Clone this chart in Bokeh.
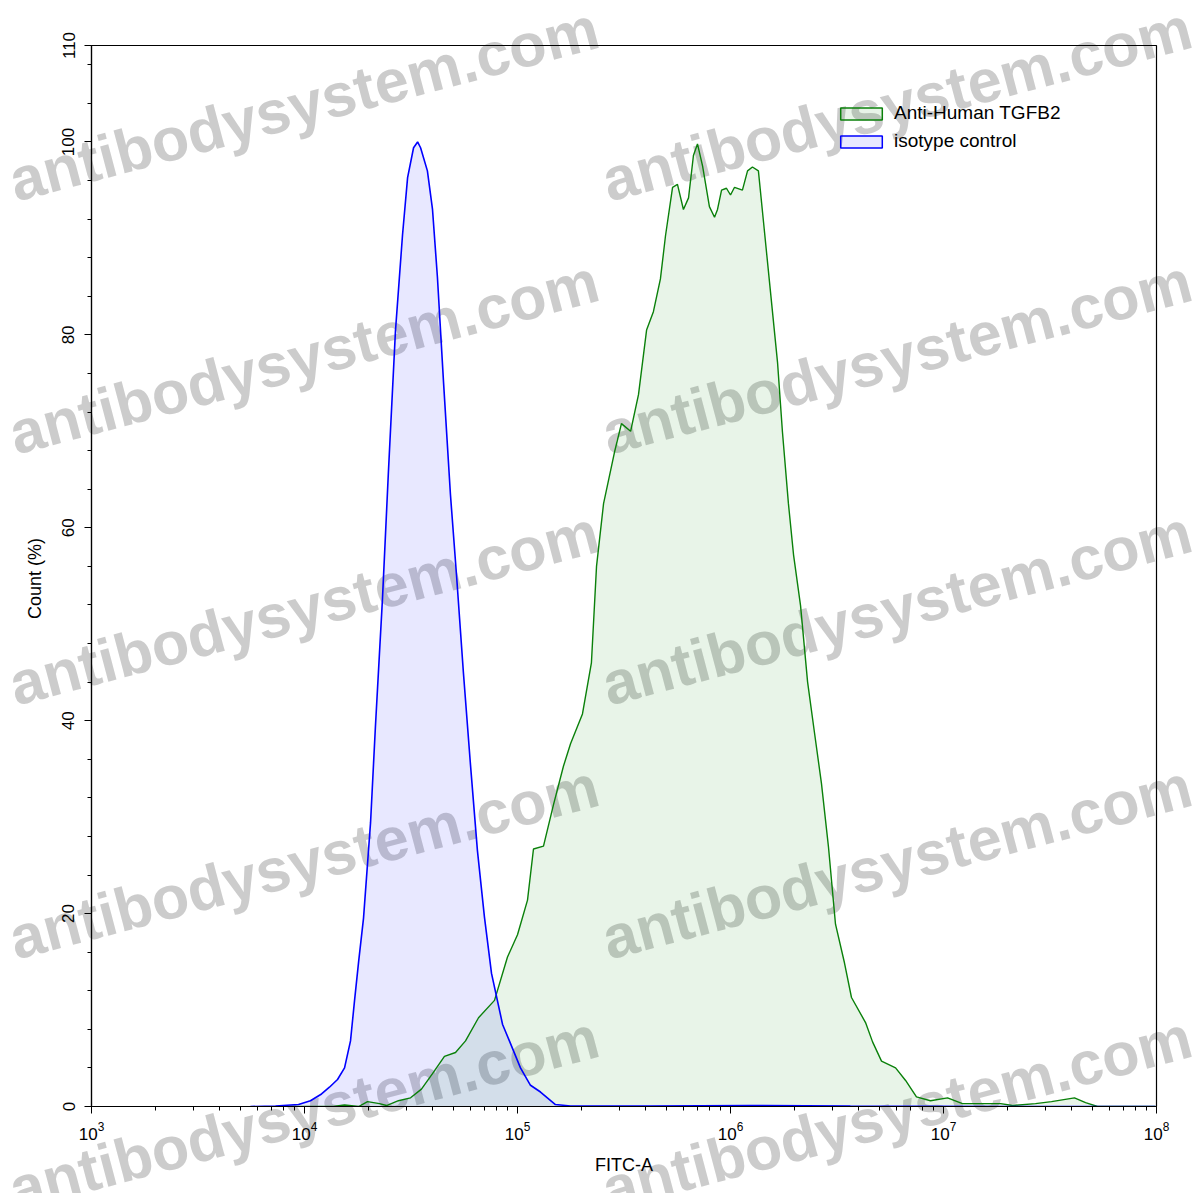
import numpy as np
from bokeh.plotting import figure
from bokeh.models import Range1d, FixedTicker, Legend, LegendItem, ColumnDataSource, GridBox, Div
from bokeh.embed import file_html
from bokeh.resources import INLINE

# ---- data (x given as log10 of FITC-A intensity, y as Count %) ----
iso_log10 = [3.746, 3.864, 3.972, 4.028, 4.080, 4.117, 4.155, 4.188, 4.216, 4.235,
             4.254, 4.277, 4.310, 4.333, 4.366, 4.394, 4.427, 4.460, 4.484, 4.512,
             4.531, 4.545, 4.577, 4.601, 4.624, 4.653, 4.685, 4.714, 4.746, 4.779,
             4.812, 4.845, 4.878, 4.930, 4.962, 5.014, 5.061, 5.108, 5.178, 5.249,
             5.624, 6.094, 6.563, 7.268, 7.995]
iso_pct = [0, 0.05, 0.2, 0.6, 1.3, 2.0, 2.8, 4.0, 6.8, 11.0,
           15.0, 19.5, 29.4, 39.4, 52.6, 65.8, 80.4, 90.3, 96.3, 99.4,
           100.0, 99.4, 97.0, 93.0, 86.0, 75.0, 63.5, 55.0, 45.0, 35.5,
           26.5, 19.6, 13.8, 8.5, 6.8, 4.0, 2.2, 1.5, 0.2, 0.05,
           0.05, 0.1, 0.05, 0, 0]

tgfb2_log10 = [3.900, 4.136, 4.188, 4.254, 4.296, 4.352, 4.385, 4.441, 4.498, 4.549,
               4.601, 4.657, 4.709, 4.756, 4.817, 4.892, 4.953, 5.000, 5.047, 5.075,
               5.122, 5.169, 5.216, 5.249, 5.305, 5.347, 5.371, 5.404, 5.455, 5.488,
               5.531, 5.568, 5.606, 5.638, 5.671, 5.695, 5.728, 5.751, 5.779, 5.803,
               5.826, 5.845, 5.869, 5.901, 5.925, 5.939, 5.958, 5.981, 6.000, 6.019,
               6.056, 6.080, 6.103, 6.131, 6.155, 6.188, 6.221, 6.244, 6.272, 6.296,
               6.329, 6.362, 6.394, 6.427, 6.460, 6.493, 6.535, 6.568, 6.634, 6.667,
               6.709, 6.775, 6.822, 6.873, 6.939, 7.019, 7.089, 7.268, 7.324, 7.432,
               7.507, 7.615, 7.667, 7.723, 7.995]
tgfb2_pct = [0, 0, 0.15, 0, 0.5, 0.3, 0.1, 0.6, 0.9, 1.8,
             3.4, 5.2, 5.6, 6.8, 9.2, 11.0, 15.5, 17.8, 21.4, 26.7,
             27.0, 31.3, 35.3, 37.6, 40.7, 46.0, 56.0, 62.5, 67.8, 70.8,
             70.0, 73.8, 80.5, 82.4, 85.8, 90.3, 95.3, 95.6, 93.0, 94.2,
             98.6, 99.8, 97.5, 93.3, 92.2, 93.0, 95.0, 95.2, 94.5, 95.3,
             95.0, 97.0, 97.4, 97.0, 91.7, 84.4, 77.1, 69.9, 62.5, 57.2,
             51.9, 44.0, 38.8, 33.5, 26.9, 18.9, 14.9, 11.3, 8.7, 6.7,
             4.7, 4.0, 2.7, 1.0, 0.6, 0.9, 0.3, 0.3, 0.1, 0.3,
             0.5, 0.9, 0.4, 0, 0]

series_names = ["Anti-Human TGFB2", "isotype control"]
x_major = [1e3, 1e4, 1e5, 1e6, 1e7, 1e8]
y_major = [0, 20, 40, 60, 80, 100, 110]
watermark = "antibodysystem.com"

FONT = "Liberation Sans"
W, H = 1197, 1193

# ---------------- watermark layer (HTML, behind the chart) ----------------
wm_x = [11, 604]
wm_y = [197, 450, 701, 955, 1206]     # baseline start, page pixels from top
WM_SIZE = 61
LH = 0.6                                # compact line box
BASE = ((LH - 1.117) / 2 + 0.905) * WM_SIZE   # baseline offset from the top of the line box
spans = []
for x in wm_x:
    for y in wm_y:
        spans.append(
            f'<span style="position:absolute; left:{x}px; top:{y - BASE:.1f}px; '
            f"font-family:'{FONT}'; font-weight:bold; font-size:{WM_SIZE}px; "
            f'line-height:{LH * WM_SIZE:.1f}px; color:rgba(128,128,128,0.4); white-space:nowrap; '
            f'transform-origin:0px {BASE:.1f}px; transform:rotate(-14.8deg);">{watermark}</span>')
wm_html = (f'<div style="position:relative; width:{W}px; height:{H}px; overflow:hidden;">'
           + "".join(spans) + "</div>")
wm = Div(text=wm_html, width=W, height=H)

# ---------------- main chart ----------------
p = figure(width=W, height=H, x_axis_type="log",
           x_range=Range1d(1e3, 1e8), y_range=Range1d(0, 110),
           output_backend="svg", toolbar_location=None,
           min_border_left=91, min_border_right=W - 1156,
           min_border_top=45, min_border_bottom=H - 1106)
p.grid.visible = False
p.outline_line_color = "black"
p.outline_line_width = 1.2
p.background_fill_alpha = 0
p.border_fill_alpha = 0

iso_src = ColumnDataSource(dict(x=10 ** np.array(iso_log10), y=iso_pct))
tg_src = ColumnDataSource(dict(x=10 ** np.array(tgfb2_log10), y=tgfb2_pct))

GREEN = "#0a800a"
BLUE = "#0000ff"

p.varea(x="x", y1=0, y2="y", source=tg_src, fill_color="#008000", fill_alpha=0.09)
p.varea(x="x", y1=0, y2="y", source=iso_src, fill_color=BLUE, fill_alpha=0.09)
p.line(x="x", y="y", source=tg_src, line_color=GREEN, line_width=1.4)
p.line(x="x", y="y", source=iso_src, line_color=BLUE, line_width=1.6)

# legend proxies: one box each, placed beyond the visible x range
off = dict(left=[x_major[-1] * 10], right=[x_major[-1] * 20], top=[1], bottom=[0])
g_leg = p.quad(source=ColumnDataSource(off), left="left", right="right", top="top", bottom="bottom",
               fill_color="#008000", fill_alpha=0.09, line_color=GREEN, line_width=1.5)
b_leg = p.quad(source=ColumnDataSource(dict(off)), left="left", right="right", top="top", bottom="bottom",
               fill_color=BLUE, fill_alpha=0.09, line_color=BLUE, line_width=1.5)
legend = Legend(items=[LegendItem(label=series_names[0], renderers=[g_leg]),
                       LegendItem(label=series_names[1], renderers=[b_leg])],
                location=(744, 954), glyph_width=52, glyph_height=15,
                label_text_font=FONT, label_text_font_size="19px", label_text_color="black",
                label_standoff=7, spacing=6, padding=0, margin=0,
                border_line_alpha=0, background_fill_alpha=0)
p.add_layout(legend)

# axes
xa = p.xaxis[0]
xa.ticker = FixedTicker(ticks=x_major,
                        minor_ticks=[k * 10 ** d for d in range(3, 8) for k in range(2, 10)])
xa.axis_label = "FITC-A"
ya = p.yaxis[0]
ya.ticker = FixedTicker(ticks=y_major,
                        minor_ticks=[v for v in range(4, 110, 4) if v % 20 != 0])
ya.axis_label = "Count  (%)"
ya.major_label_orientation = "vertical"

for ax in (xa, ya):
    ax.axis_line_color = "black"
    ax.axis_line_width = 1.2
    ax.major_tick_line_color = "black"
    ax.minor_tick_line_color = "black"
    ax.major_tick_in = 0
    ax.major_tick_out = 7
    ax.minor_tick_in = 0
    ax.minor_tick_out = 4
    ax.major_label_text_font = FONT
    ax.major_label_text_font_size = "17px"
    ax.major_label_text_color = "black"
    ax.axis_label_text_font = FONT
    ax.axis_label_text_font_size = "18px"
    ax.axis_label_text_font_style = "normal"
    ax.axis_label_text_color = "black"
xa.major_label_standoff = 8
xa.axis_label_standoff = 12
ya.major_label_standoff = 10
ya.axis_label_standoff = 15

root = GridBox(children=[(wm, 0, 0), (p, 0, 0)])
open("out.html", "w").write(file_html(root, INLINE))
